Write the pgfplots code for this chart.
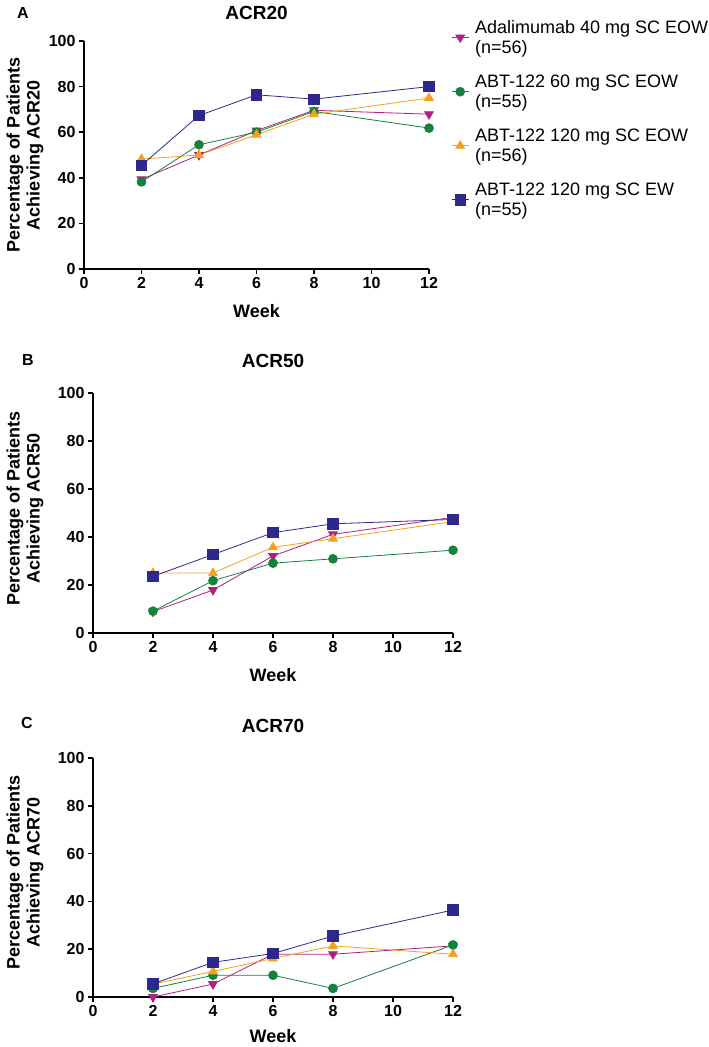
\documentclass[border=0pt]{standalone}
\usepackage{pgfplots}
\pgfplotsset{compat=1.18}
\usepackage{fontspec}
\setmainfont{Liberation Sans}
\definecolor{cMag}{RGB}{176,32,128}
\definecolor{cGrn}{RGB}{20,130,60}
\definecolor{cOra}{RGB}{245,160,30}
\definecolor{cNav}{RGB}{45,40,140}
\pgfplotsset{
  acr/.style={
    scale only axis,
    xmin=0,xmax=12,ymin=0,ymax=100,
    axis x line*=bottom, axis y line*=left,
    axis line style={line width=1.6pt},
    xtick={0,2,...,12}, ytick={0,20,...,100},
    tick align=outside, major tick length=5pt,
    tick style={black, line width=1.6pt},
    tick label style={font=\fontsize{16}{18}\selectfont\bfseries},
    /pgf/number format/assume math mode=true,
    clip=false,
    title style={font=\fontsize{19}{21}\selectfont\bfseries, at={(axis description cs:0.5,1)}, anchor=center, yshift=26pt},
    xlabel={Week},
    xlabel style={font=\fontsize{18}{20}\selectfont\bfseries, at={(axis description cs:0.5,0)}, anchor=center, yshift=-42pt},
    ylabel style={font=\fontsize{18}{20}\selectfont\bfseries, align=center, anchor=center},
  },
  sMag/.style={color=cMag, line width=0.8pt, mark=triangle*, mark size=5pt, mark options={rotate=180, solid}},
  sGrn/.style={color=cGrn, line width=0.8pt, mark=*, mark size=4.4pt, mark options={solid}},
  sOra/.style={color=cOra, line width=0.8pt, mark=triangle*, mark size=5pt, mark options={solid}},
  sNav/.style={color=cNav, line width=0.8pt, mark=square*, mark size=5.2pt, mark options={solid}},
}
\begin{document}
\begin{tikzpicture}[x=1pt,y=1pt]
\useasboundingbox (0,0) rectangle (709,1047);
\node[font=\fontsize{16}{18}\selectfont\bfseries] at (23,1034) {A};
\node[font=\fontsize{16}{18}\selectfont\bfseries] at (28,687) {B};
\node[font=\fontsize{16}{18}\selectfont\bfseries] at (27,324) {C};

% Panel A
\begin{axis}[acr, at={(84pt,778pt)}, anchor=south west, width=345pt, height=228pt,
  title={ACR20},
  title style={yshift=-4pt},
  ylabel={Percentage of Patients\\Achieving ACR20},
  ylabel style={at={(axis description cs:-0.171,0.5)}},
  legend style={at={(axis description cs:1.064,1.101)}, anchor=north west, draw=none, fill=none,
    font=\fontsize{18}{20}\selectfont, cells={anchor=west, align=left}, row sep=16pt, column sep=4pt,
    inner sep=0pt, nodes={inner sep=2pt}},
]
\addplot[sMag] coordinates {(2,39.3) (4,50.0) (6,60.7) (8,69.6) (12,67.9)};
\addlegendentry{Adalimumab 40 mg SC EOW\\(n=56)}
\addplot[sGrn] coordinates {(2,38.2) (4,54.5) (6,60.0) (8,69.1) (12,61.8)};
\addlegendentry{ABT-122 60 mg SC EOW\\(n=55)}
\addplot[sOra] coordinates {(2,48.2) (4,50.0) (6,58.9) (8,67.9) (12,75.0)};
\addlegendentry{ABT-122 120 mg SC EOW\\(n=56)}
\addplot[sNav] coordinates {(2,45.5) (4,67.3) (6,76.4) (8,74.5) (12,80.0)};
\addlegendentry{ABT-122 120 mg SC EW\\(n=55)}
\end{axis}

% Panel B
\begin{axis}[acr, at={(93pt,414pt)}, anchor=south west, width=360pt, height=240pt,
  title={ACR50},
  ylabel={Percentage of Patients\\Achieving ACR50},
  ylabel style={at={(axis description cs:-0.189,0.52)}},
]
\addplot[sMag] coordinates {(2,8.9) (4,17.9) (6,32.1) (8,41.1) (12,48.2)};
\addplot[sGrn] coordinates {(2,9.1) (4,21.8) (6,29.1) (8,30.9) (12,34.5)};
\addplot[sOra] coordinates {(2,25.0) (4,25.0) (6,35.7) (8,39.3) (12,46.4)};
\addplot[sNav] coordinates {(2,23.6) (4,32.7) (6,41.8) (8,45.5) (12,47.3)};
\end{axis}

% Panel C
\begin{axis}[acr, at={(93pt,50pt)}, anchor=south west, width=360pt, height=239pt,
  title={ACR70},
  ylabel={Percentage of Patients\\Achieving ACR70},
  ylabel style={at={(axis description cs:-0.189,0.52)}},
  xlabel style={yshift=3pt},
]
\addplot[sMag] coordinates {(2,0.0) (4,5.4) (6,17.9) (8,17.9) (12,21.4)};
\addplot[sGrn] coordinates {(2,3.6) (4,9.1) (6,9.1) (8,3.6) (12,21.8)};
\addplot[sOra] coordinates {(2,5.4) (4,10.7) (6,16.1) (8,21.4) (12,17.9)};
\addplot[sNav] coordinates {(2,5.5) (4,14.5) (6,18.2) (8,25.5) (12,36.4)};
\end{axis}
\end{tikzpicture}
\end{document}
